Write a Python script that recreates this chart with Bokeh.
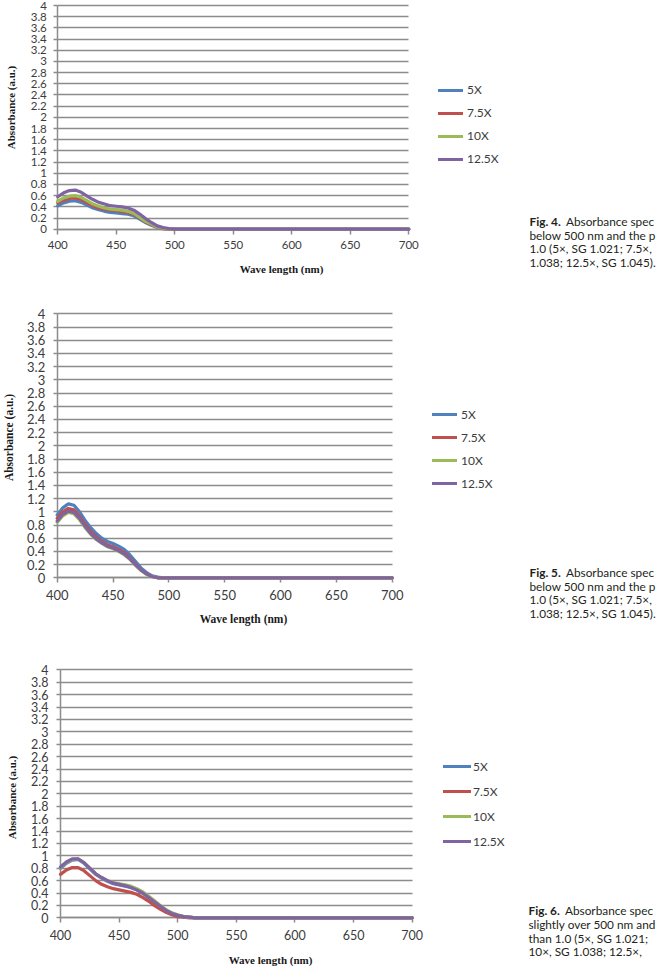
from bokeh.plotting import figure
from bokeh.models import Range1d, FixedTicker, Legend, LegendItem, Label
from bokeh.layouts import column
from bokeh.embed import file_html
from bokeh.resources import INLINE

# ---- data -------------------------------------------------------------
wavelength = [400, 405, 410, 415, 420, 425, 430, 435, 440, 445, 450, 455, 460,
              465, 470, 475, 480, 485, 490, 495, 500, 505, 510, 515, 520, 700]

series_names = ["5X", "7.5X", "10X", "12.5X"]

fig4_5x   = [0.42, 0.47, 0.50, 0.51, 0.48, 0.43, 0.38, 0.35, 0.32, 0.30, 0.29, 0.28, 0.27,
             0.24, 0.18, 0.12, 0.07, 0.03, 0.01, 0.00, 0, 0, 0, 0, 0, 0]
fig4_7_5x = [0.47, 0.52, 0.55, 0.56, 0.53, 0.47, 0.42, 0.38, 0.36, 0.34, 0.33, 0.32, 0.30,
             0.27, 0.20, 0.13, 0.08, 0.04, 0.01, 0.00, 0, 0, 0, 0, 0, 0]
fig4_10x  = [0.50, 0.56, 0.59, 0.60, 0.57, 0.51, 0.45, 0.41, 0.38, 0.36, 0.35, 0.34, 0.32,
             0.28, 0.21, 0.14, 0.09, 0.04, 0.02, 0.00, 0, 0, 0, 0, 0, 0]
fig4_12_5x = [0.58, 0.65, 0.69, 0.70, 0.66, 0.59, 0.53, 0.48, 0.45, 0.42, 0.41, 0.40, 0.38,
              0.34, 0.27, 0.19, 0.12, 0.06, 0.03, 0.01, 0, 0, 0, 0, 0, 0]

fig5_5x   = [0.95, 1.06, 1.12, 1.10, 1.00, 0.87, 0.76, 0.67, 0.60, 0.55, 0.52, 0.48, 0.43,
             0.35, 0.25, 0.15, 0.08, 0.03, 0.01, 0.00, 0, 0, 0, 0, 0, 0]
fig5_7_5x = [0.90, 1.00, 1.05, 1.03, 0.93, 0.81, 0.70, 0.62, 0.55, 0.50, 0.47, 0.43, 0.38,
             0.30, 0.21, 0.12, 0.06, 0.02, 0.00, 0.00, 0, 0, 0, 0, 0, 0]
fig5_10x  = [0.84, 0.94, 0.99, 0.97, 0.88, 0.76, 0.66, 0.58, 0.52, 0.47, 0.44, 0.40, 0.35,
             0.28, 0.19, 0.11, 0.05, 0.02, 0.00, 0.00, 0, 0, 0, 0, 0, 0]
fig5_12_5x = [0.86, 0.96, 1.01, 0.99, 0.90, 0.78, 0.67, 0.59, 0.53, 0.48, 0.45, 0.41, 0.36,
              0.29, 0.20, 0.12, 0.06, 0.02, 0.00, 0.00, 0, 0, 0, 0, 0, 0]

fig6_5x   = [0.80, 0.88, 0.93, 0.94, 0.88, 0.79, 0.70, 0.64, 0.59, 0.55, 0.53, 0.51, 0.49,
             0.45, 0.40, 0.33, 0.26, 0.19, 0.12, 0.07, 0.04, 0.02, 0.01, 0, 0, 0]
fig6_7_5x = [0.70, 0.77, 0.81, 0.81, 0.76, 0.68, 0.60, 0.54, 0.50, 0.47, 0.45, 0.43, 0.41,
             0.38, 0.33, 0.27, 0.20, 0.14, 0.09, 0.05, 0.02, 0.01, 0, 0, 0, 0]
fig6_10x  = [0.81, 0.89, 0.94, 0.95, 0.89, 0.80, 0.71, 0.65, 0.60, 0.57, 0.55, 0.53, 0.51,
             0.47, 0.42, 0.35, 0.28, 0.20, 0.13, 0.08, 0.05, 0.02, 0.01, 0, 0, 0]
fig6_12_5x = [0.82, 0.90, 0.95, 0.95, 0.89, 0.80, 0.71, 0.65, 0.60, 0.56, 0.54, 0.52, 0.49,
              0.45, 0.40, 0.33, 0.26, 0.19, 0.12, 0.07, 0.04, 0.02, 0.01, 0, 0, 0]

x_ticks = [400, 450, 500, 550, 600, 650, 700]
y_ticks = [0, 0.2, 0.4, 0.6, 0.8, 1, 1.2, 1.4, 1.6, 1.8, 2, 2.2, 2.4, 2.6, 2.8,
           3, 3.2, 3.4, 3.6, 3.8, 4]
y_tick_labels = ["0", "0.2", "0.4", "0.6", "0.8", "1", "1.2", "1.4", "1.6", "1.8", "2",
                 "2.2", "2.4", "2.6", "2.8", "3", "3.2", "3.4", "3.6", "3.8", "4"]

# caption lines as they run up to the page edge
captions = {
    4: ["Absorbance spec", "below 500 nm and the p",
        "1.0 (5\u00d7, SG 1.021; 7.5\u00d7,", "1.038; 12.5\u00d7, SG 1.045)."],
    5: ["Absorbance spec", "below 500 nm and the p",
        "1.0 (5\u00d7, SG 1.021; 7.5\u00d7,", "1.038; 12.5\u00d7, SG 1.045)."],
    6: ["Absorbance spec", "slightly over 500 nm and",
        "than 1.0 (5\u00d7, SG 1.021;", "10\u00d7, SG 1.038; 12.5\u00d7,"],
}

# ---- styling ------------------------------------------------------------
COLORS = ["#4F81BD", "#C0504D", "#9BBB59", "#8064A2"]
GRID = "#8c8c8c"
TICK_TXT = "#3c3c3c"
CAPTION_PX = "11.8px"
PAGE_W = 657
X_LO, X_HI = 400, 700
Y_LO, Y_HI = 0, 4

# panel geometry in page pixels: where 400/700 nm and 0/4 a.u. sit
panels = [
    dict(fig=4, top=0, height=292, x400=57.3, x700=408.3, y4=5.0, y0=228.7,
         tick_px="11.5px", xstand=7, ystand=7,
         xtitle=(281, 268), ytitle=(10, 107), title_px="11px",
         leg_left=438, leg_first=89.5, leg_gw=25, leg_sp=3, leg_std=4,
         cap_x=529, cap_x2=565.5, cap_y=[221, 234.5, 248, 261.5],
         curves=[fig4_5x, fig4_7_5x, fig4_10x, fig4_12_5x]),
    dict(fig=5, top=292, height=348, x400=56.7, x700=391.7, y4=313.3, y0=577.3,
         tick_px="13px", xstand=7, ystand=8,
         xtitle=(243, 618), ytitle=(8, 437), title_px="11.5px",
         leg_left=432, leg_first=414, leg_gw=25, leg_sp=3, leg_std=4,
         cap_x=529, cap_x2=565.5, cap_y=[572, 585.5, 599, 612.5],
         curves=[fig5_5x, fig5_7_5x, fig5_10x, fig5_12_5x]),
    dict(fig=6, top=640, height=330, x400=60.0, x700=411.7, y4=669.3, y0=917.3,
         tick_px="12.5px", xstand=7, ystand=8,
         xtitle=(270, 959), ytitle=(11, 797), title_px="11px",
         leg_left=443, leg_first=766, leg_gw=28, leg_sp=5, leg_std=2,
         cap_x=528, cap_x2=564.5, cap_y=[910, 924, 937.5, 951],
         curves=[fig6_5x, fig6_7_5x, fig6_10x, fig6_12_5x]),
]


def make_panel(s):
    top, h = s["top"], s["height"]

    def to_data(X, Y):
        xd = X_LO + (X - s["x400"]) / (s["x700"] - s["x400"]) * (X_HI - X_LO)
        yd = Y_LO + (s["y0"] - Y) / (s["y0"] - s["y4"]) * (Y_HI - Y_LO)
        return xd, yd

    # the frame spans the whole panel so the side texts are not clipped;
    # axes sit at fixed data locations inside it
    x_start, _ = to_data(0, 0)
    x_end, _ = to_data(PAGE_W, 0)
    _, y_end = to_data(0, top)
    _, y_start = to_data(0, top + h)

    p = figure(width=PAGE_W, height=h,
               x_range=Range1d(x_start, x_end), y_range=Range1d(y_start, y_end),
               output_backend="svg", toolbar_location=None,
               min_border_left=0, min_border_right=0,
               min_border_top=0, min_border_bottom=0)
    p.outline_line_color = None
    p.background_fill_color = "white"
    p.border_fill_color = "white"

    p.xaxis.ticker = FixedTicker(ticks=x_ticks)
    p.yaxis.ticker = FixedTicker(ticks=y_ticks)
    p.yaxis.major_label_overrides = dict(zip(y_ticks, y_tick_labels))
    p.xaxis.fixed_location = Y_LO
    p.yaxis.fixed_location = X_LO
    p.xaxis.bounds = (X_LO, X_HI)
    p.yaxis.bounds = (Y_LO, Y_HI)
    for ax in (p.xaxis, p.yaxis):
        ax.level = "underlay"
        ax.axis_line_color = GRID
        ax.axis_line_width = 1.5
        ax.major_tick_line_color = GRID
        ax.major_tick_line_width = 1.5
        ax.major_tick_in = 0
        ax.minor_tick_line_color = None
        ax.major_label_text_font = "Lato"
        ax.major_label_text_font_size = s["tick_px"]
        ax.major_label_text_color = TICK_TXT
    p.xaxis.major_tick_out = 5
    p.yaxis.major_tick_out = 4
    p.xaxis.major_label_standoff = s["xstand"]
    p.yaxis.major_label_standoff = s["ystand"]

    # horizontal gridlines only, between 400 and 700 nm
    p.xgrid.visible = False
    p.ygrid.ticker = FixedTicker(ticks=y_ticks)
    p.ygrid.bounds = (Y_LO, Y_HI)
    p.ygrid.cross_bounds = (X_LO, X_HI)
    p.ygrid.grid_line_color = GRID
    p.ygrid.grid_line_width = 1.5

    # spectra
    items = []
    for name, vals, col in zip(series_names, s["curves"], COLORS):
        r = p.line(wavelength, vals, line_color=col, line_width=3.2,
                   line_join="round", line_cap="round")
        items.append(LegendItem(label=name, renderers=[r]))

    gh = 20
    leg_h = 4 * gh + 3 * s["leg_sp"]
    leg_bottom = s["leg_first"] - gh / 2 + leg_h
    legend = Legend(items=items,
                    location=(s["leg_left"], top + h - leg_bottom),
                    padding=0, margin=0, spacing=s["leg_sp"],
                    glyph_width=s["leg_gw"], glyph_height=gh, label_height=gh,
                    label_standoff=s["leg_std"],
                    label_text_font="Lato", label_text_font_size="12px",
                    label_text_color=TICK_TXT,
                    background_fill_alpha=0, border_line_color=None)
    p.add_layout(legend)

    # axis titles
    tx, ty = to_data(*s["xtitle"])
    p.add_layout(Label(x=tx, y=ty, text="Wave length (nm)",
                       text_font="Liberation Serif", text_font_style="bold",
                       text_font_size=s["title_px"], text_color="#1a1a1a",
                       text_align="center", text_baseline="middle"))
    tx, ty = to_data(*s["ytitle"])
    p.add_layout(Label(x=tx, y=ty, text="Absorbance (a.u.)", angle=90,
                       angle_units="deg",
                       text_font="Liberation Serif", text_font_style="bold",
                       text_font_size=s["title_px"], text_color="#1a1a1a",
                       text_align="center", text_baseline="middle"))

    # figure caption beside the chart
    lines = captions[s["fig"]]
    for i, (line, cy) in enumerate(zip(lines, s["cap_y"])):
        if i == 0:
            bx, by = to_data(s["cap_x"], cy)
            p.add_layout(Label(x=bx, y=by, text="Fig. %d." % s["fig"],
                               text_font="Lato", text_font_style="bold",
                               text_font_size=CAPTION_PX, text_color="#231f20",
                               text_align="left", text_baseline="middle"))
            lx, ly = to_data(s["cap_x2"], cy)
        else:
            lx, ly = to_data(s["cap_x"], cy)
        p.add_layout(Label(x=lx, y=ly, text=line,
                           text_font="Lato", text_font_size=CAPTION_PX,
                           text_color="#231f20",
                           text_align="left", text_baseline="middle"))
    return p


layout = column(*[make_panel(s) for s in panels], spacing=0)

with open("out.html", "w") as f:
    f.write(file_html(layout, INLINE))
